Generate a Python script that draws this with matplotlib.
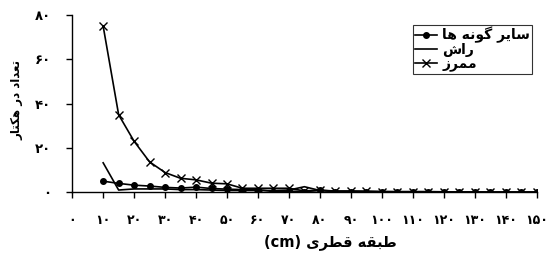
import matplotlib
matplotlib.use("Agg")
import matplotlib.pyplot as plt

# diameter classes (cm)
classes = [10, 15, 20, 25, 30, 35, 40, 45, 50, 55, 60, 65, 70, 75, 80,
           85, 90, 95, 100, 105, 110, 115, 120, 125, 130, 135, 140, 145, 150]

other = [5.0, 4.0, 3.2, 2.8, 2.2, 1.9, 2.3, 1.7, 1.4, 1.2, 1.2, 0.3, 0.5, 0.3, 0.8,
         0.3, 0.3, 0.2, 0.2, 0.1, 0.1, 0.1, 0.0, 0.0, 0.0, 0.0, 0.0, 0.0, 0.0]
beech = [13.3, 1.0, 1.5, 1.5, 1.5, 1.2, 1.2, 1.0, 0.8, 0.8, 0.8, 0.8, 1.0, 2.5, 0.8,
         0.5, 0.5, 0.3, 0.3, 0.2, 0.2, 0.2, 0.1, 0.1, 0.1, 0.0, 0.0, 0.0, 0.0]
hornbeam = [75.0, 35.0, 23.0, 13.7, 8.9, 6.3, 5.6, 4.1, 3.8, 1.8, 1.8, 1.8, 1.8, 0.6, 1.0,
            0.5, 0.5, 0.5, 0.3, 0.3, 0.3, 0.3, 0.2, 0.1, 0.1, 0.1, 0.1, 0.1, 0.1]

x_ticks = list(range(0, 151, 10))
y_ticks = [0, 20, 40, 60, 80]

name_other = "سایر گونه ها"
name_beech = "راش"
name_hornbeam = "ممرز"
x_title = "طبقه قطری"
y_title = "تعداد در هکتار"

# matplotlib has no arabic shaping, so do it by hand
FORMS = {
    "ا": (0xFE8D, 0xFE8E, None, None),
    "ب": (0xFE8F, 0xFE90, 0xFE91, 0xFE92),
    "ت": (0xFE95, 0xFE96, 0xFE97, 0xFE98),
    "د": (0xFEA9, 0xFEAA, None, None),
    "ر": (0xFEAD, 0xFEAE, None, None),
    "ز": (0xFEAF, 0xFEB0, None, None),
    "س": (0xFEB1, 0xFEB2, 0xFEB3, 0xFEB4),
    "ش": (0xFEB5, 0xFEB6, 0xFEB7, 0xFEB8),
    "ط": (0xFEC1, 0xFEC2, 0xFEC3, 0xFEC4),
    "ع": (0xFEC9, 0xFECA, 0xFECB, 0xFECC),
    "ق": (0xFED5, 0xFED6, 0xFED7, 0xFED8),
    "م": (0xFEE1, 0xFEE2, 0xFEE3, 0xFEE4),
    "ن": (0xFEE5, 0xFEE6, 0xFEE7, 0xFEE8),
    "ه": (0xFEE9, 0xFEEA, 0xFEEB, 0xFEEC),
    "و": (0xFEED, 0xFEEE, None, None),
    "ک": (0xFB8E, 0xFB8F, 0xFB90, 0xFB91),
    "گ": (0xFB92, 0xFB93, 0xFB94, 0xFB95),
    "ی": (0xFBFC, 0xFBFD, 0xFBFE, 0xFBFF),
}


def shape(text):
    out = []
    for i, ch in enumerate(text):
        if ch not in FORMS:
            out.append(ch)
            continue
        prev = text[i - 1] if i > 0 else ""
        nxt = text[i + 1] if i + 1 < len(text) else ""
        join_prev = prev in FORMS and FORMS[prev][2] is not None
        join_next = nxt in FORMS and FORMS[ch][2] is not None
        iso, fin, ini, med = FORMS[ch]
        if join_prev and join_next:
            code = med
        elif join_prev:
            code = fin
        elif join_next:
            code = ini
        else:
            code = iso
        out.append(chr(code))
    return "".join(out)[::-1]


def fa_digits(n):
    return str(n).translate(str.maketrans("0123456789", "۰۱۲۳۴۵۶۷۸۹"))


plt.rcParams["font.family"] = ["DejaVu Sans"]

fig = plt.figure(figsize=(5.47, 2.56), dpi=100)
ax = fig.add_axes([0.132, 0.249, 0.849, 0.692])

ax.plot(classes, other, color="black", lw=1.2, marker="o", markersize=4,
        label=shape(name_other))
ax.plot(classes, beech, color="black", lw=1.2, label=shape(name_beech))
ax.plot(classes, hornbeam, color="black", lw=1.2, marker="x", markersize=5.5,
        markeredgewidth=1, label=shape(name_hornbeam))

ax.set_xlim(0, 150)
ax.set_ylim(0, 80)
ax.set_xticks(x_ticks)
ax.set_xticklabels([fa_digits(v) for v in x_ticks], fontsize=9, fontweight="bold")
ax.set_yticks(y_ticks)
ax.set_yticklabels([fa_digits(v) for v in y_ticks], fontsize=9.5, fontweight="bold")
ax.tick_params(axis="x", direction="out", length=4, width=1, pad=12)
ax.tick_params(axis="y", direction="out", length=4, width=1, pad=11)

for side in ["top", "right"]:
    ax.spines[side].set_visible(False)
for side in ["left", "bottom"]:
    ax.spines[side].set_linewidth(1)

ax.set_xlabel("(cm) " + shape(x_title), fontsize=10.5, fontweight="bold")
ax.xaxis.set_label_coords(0.555, -0.235)
ax.set_ylabel(shape(y_title), fontsize=8.5, fontweight="bold")
ax.yaxis.set_label_coords(-0.105, 0.52)

leg = ax.legend(loc="upper right", bbox_to_anchor=(1.0, 0.97), frameon=True,
                fancybox=False, edgecolor="black",
                prop={"weight": "bold", "size": 10}, handlelength=1.6,
                borderpad=0.15, labelspacing=0.0, handletextpad=0.4,
                borderaxespad=0.3)
leg.get_frame().set_linewidth(0.8)

fig.savefig("out.png", dpi=100)
